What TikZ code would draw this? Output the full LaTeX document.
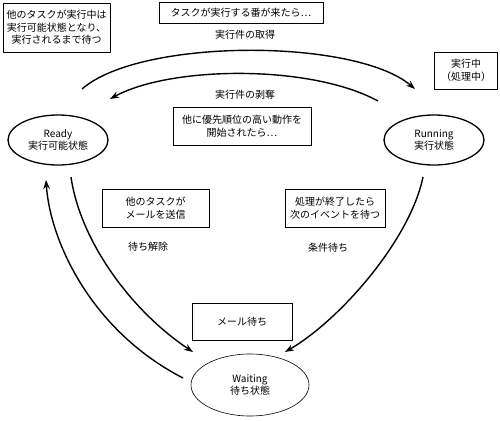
\documentclass[tikz,border=0pt]{standalone}
\usepackage{fontspec}
\setmainfont{Noto Sans CJK JP}
\usetikzlibrary{arrows.meta,shapes.geometric}
\begin{document}
\begin{tikzpicture}[x=1pt,y=-1pt,
  every node/.style={font=\fontsize{10}{12.5}\selectfont, inner sep=0pt},
  box/.style={draw, line width=0.6pt, align=center},
  state/.style={draw, ellipse, line width=1.3pt, align=center},
  lbl/.style={align=center},
  flow/.style={line width=1.4pt, -{Stealth[length=9pt,width=6.5pt]}}]
\useasboundingbox (0,0) rectangle (500,420);
% boxes
\node[box, minimum width=107pt, minimum height=49pt] (b1) at (56.5,27.5) {他のタスクが実行中は\\実行可能状態となり、\\実行されるまで待つ};
\node[box, minimum width=164pt, minimum height=21pt] (b2) at (241,12.5) {タスクが実行する番が来たら…};
\node[box, minimum width=138pt, minimum height=38pt] (b3) at (242,126) {他に優先順位の高い動作を\\開始されたら…};
\node[box, minimum width=63pt, minimum height=37pt] (b4) at (466,70.5) {実行中\\（処理中）};
\node[box, minimum width=107pt, minimum height=38pt] (b5) at (155.5,208) {他のタスクが\\メールを送信};
\node[box, minimum width=100pt, minimum height=38pt] (b6) at (335,208) {処理が終了したら\\次のイベントを待つ};
\node[box, minimum width=100pt, minimum height=37pt] (b7) at (242,321.5) {メール待ち};
% states
\node[state, minimum width=100pt, minimum height=50pt] (ready) at (58,140) {Ready\\実行可能状態};
\node[state, minimum width=100pt, minimum height=50pt] (run) at (434,140) {Running\\実行状態};
\node[state, line width=0.6pt, minimum width=118pt, minimum height=62pt] (wait) at (250,385) {Waiting\\待ち状態};
% labels
\node[lbl] (l1) at (245,35) {実行件の取得};
\node[lbl] (l2) at (245,95) {実行件の剥奪};
\node[lbl] (l3) at (148,247) {待ち解除};
\node[lbl] (l4) at (328,248) {条件待ち};
% connector ends
\coordinate (r1) at (82,89);
\coordinate (u1) at (415,89);
\coordinate (u2) at (378,101);
\coordinate (r2) at (110,99);
\coordinate (r3) at (71,177);
\coordinate (w1) at (193,352);
\coordinate (w2) at (183,378);
\coordinate (r4) at (46,180);
\coordinate (u3) at (423,177);
\coordinate (w3) at (285,352);
% connectors
\draw[flow] (r1) .. controls (140,38) and (355,38) .. (u1);
\draw[flow] (u2) .. controls (310,64) and (170,66) .. (r2);
\draw[flow] (r3) .. controls (80,240) and (130,310) .. (w1);
\draw[flow] (w2) .. controls (90,330) and (50,240) .. (r4);
\draw[flow] (u3) .. controls (410,240) and (340,320) .. (w3);
\end{tikzpicture}
\end{document}
